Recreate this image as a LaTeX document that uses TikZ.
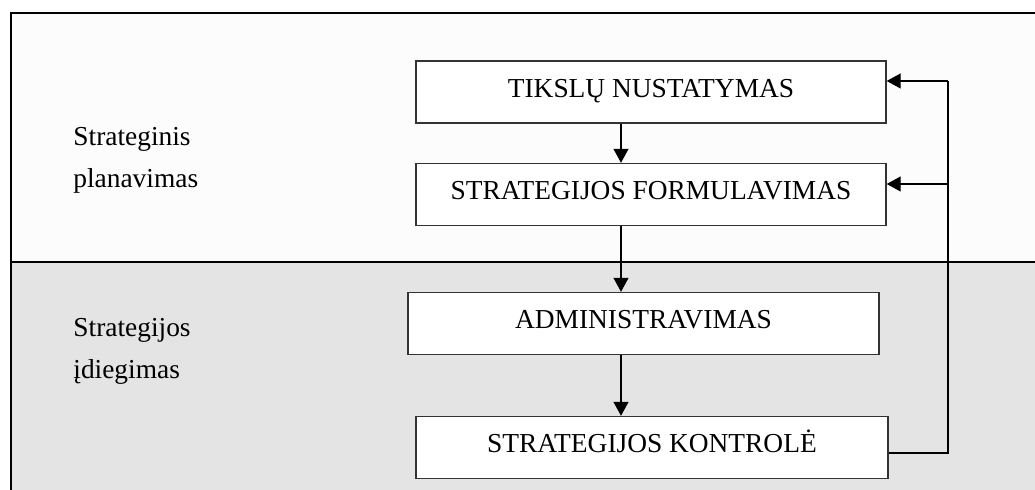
\documentclass[tikz,border=0pt]{standalone}
\usepackage{fontspec}
\setmainfont{Liberation Serif}
\usepackage{tikz}
\usetikzlibrary{arrows.meta,positioning}
\definecolor{topband}{HTML}{FCFCFC}
\definecolor{lowband}{HTML}{E4E4E4}

\begin{document}
\begin{tikzpicture}[x=0.5pt,y=-0.5pt,
    stage/.style={draw=black!80,line width=0.7pt,fill=white,inner sep=0pt,
      minimum height=31pt,text height=9.5pt,text depth=4.3pt,
      font=\fontsize{13.7}{16}\selectfont},
    side/.style={anchor=west,align=left,inner sep=0pt,
      font=\fontsize{13.7}{21}\selectfont},
    flow/.style={-{Triangle[length=7pt,width=7.5pt]},line width=0.6pt}]
  \useasboundingbox (0,0) rectangle (1035,490);
  % two bands
  \fill[topband] (11,13) rectangle (1035,262);
  \fill[lowband] (11,262) rectangle (1035,490);
  \draw[line width=0.6pt] (11,490) -- (11,13) -- (1035,13);
  \draw[line width=0.6pt] (11,262) -- (1035,262);

  \node[side] (plan) at (73,160) {Strateginis\\planavimas};
  \node[side] (idieg) at (73,351.5) {Strategijos\\įdiegimas};

  \node[stage,minimum width=235pt] (tiks) at (651,92) {TIKSLŲ NUSTATYMAS};
  \node[stage,minimum width=235pt] (form) at (651,194.5) {STRATEGIJOS FORMULAVIMAS};
  \node[stage,minimum width=235.5pt] (admin) at (643.5,323.5) {ADMINISTRAVIMAS};
  \node[stage,minimum width=236pt] (kontr) at (652,447.5) {STRATEGIJOS KONTROLĖ};

  % main chain
  \coordinate (ax) at (621,0);
  \draw[flow] (tiks.south -| ax) -- (form.north -| ax);
  \draw[flow] (form.south -| ax) -- (admin.north -| ax);
  \draw[flow] (admin.south -| ax) -- (kontr.north -| ax);

  % feedback
  \coordinate (fb) at (948,0);
  \coordinate (kout) at ([yshift=-2.75pt]kontr.east);
  \coordinate (tin) at ([yshift=5.5pt]tiks.east);
  \coordinate (fin) at ([yshift=5.25pt]form.east);
  \draw[line width=0.6pt] (kout) -| (tin -| fb);
  \draw[flow] (tin -| fb) -- (tin);
  \draw[flow] (fin -| fb) -- (fin);
\end{tikzpicture}
\end{document}
